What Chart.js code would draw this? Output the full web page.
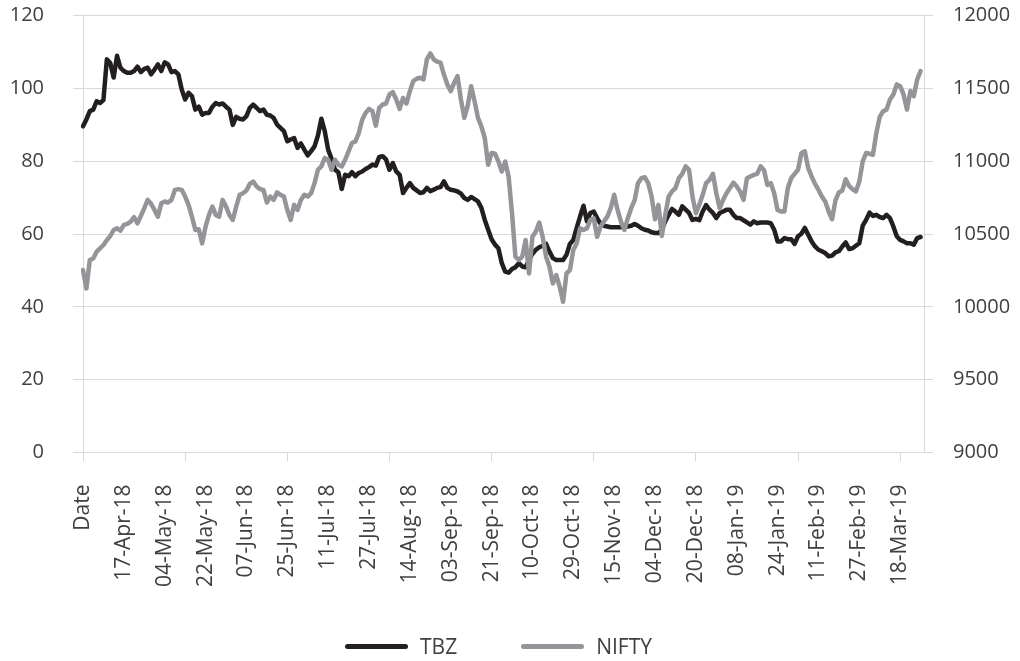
<!DOCTYPE html>
<html>
<head>
<meta charset="utf-8">
<script src="https://cdn.jsdelivr.net/npm/chart.js@4.4.1/dist/chart.umd.min.js"></script>
<style>
  html, body { margin: 0; padding: 0; background: #fff; }
  #wrap { position: relative; width: 1020px; height: 661px; }
  #legend {
    position: absolute; left: 345px; top: 632px; height: 28px;
    display: flex; align-items: center;
    font: 21px "Open Sans", sans-serif; color: #404040;
  }
  #legend .item { display: flex; align-items: center; margin-right: 64px; }
  #legend .item:last-child { margin-right: 0; }
  #legend .swatch { display: inline-block; width: 63px; height: 5px; border-radius: 3px; margin-right: 12px; }
</style>
</head>
<body>
<div id="wrap">
  <canvas id="chart" width="1020" height="661"></canvas>
  <div id="legend"></div>
</div>
<script>
"use strict";

// every 12th trading day gets a label; the first row of the sheet was the header "Date"
const tickLabels = [
  'Date', '17-Apr-18', '04-May-18', '22-May-18', '07-Jun-18', '25-Jun-18', '11-Jul-18',
  '27-Jul-18', '14-Aug-18', '03-Sep-18', '21-Sep-18', '10-Oct-18', '29-Oct-18', '15-Nov-18',
  '04-Dec-18', '20-Dec-18', '08-Jan-19', '24-Jan-19', '11-Feb-19', '27-Feb-19', '18-Mar-19'
];
const CATEGORY_COUNT = 248;
const LABEL_EVERY = 12;
const TICK_EVERY = 30;

const tbz = [
  89.6, 91.5, 93.8, 94.2, 96.5, 96, 96.8, 108, 107, 103,
  109, 105.7, 104.8, 104.3, 104.3, 104.8, 106, 104.5, 105.4, 105.7,
  103.9, 105.2, 106.6, 104.8, 107.2, 106.6, 104.5, 104.8, 103.9, 99.7,
  97, 98.8, 97.9, 94.2, 95, 92.8, 93.3, 93.3, 95, 96,
  95.6, 95.9, 95, 94.2, 90, 92.2, 91.7, 91.5, 92.4, 94.7,
  95.6, 94.7, 93.8, 94.2, 92.8, 92.6, 91.9, 90.1, 89.2, 88.3,
  85.5, 86, 86.4, 83.7, 84.9, 83.2, 81.6, 82.8, 84.1, 87.1,
  91.7, 88.3, 83.2, 80.7, 77.7, 77, 72.4, 76.3, 75.9, 77,
  75.9, 76.8, 77.2, 77.9, 78.4, 79.1, 78.8, 81.2, 81.4, 80.5,
  77.7, 79.5, 77.2, 76.3, 71.3, 72.7, 74, 72.7, 72, 71.3,
  71.5, 72.7, 71.8, 72.2, 72.7, 72.9, 74.5, 72.7, 72.2, 72,
  71.7, 71.1, 69.9, 69.4, 70.2, 69.6, 69, 67.2, 63.9, 61.2,
  58.6, 57.1, 56.1, 52, 49.7, 49.4, 50.4, 50.9, 52, 51.1,
  50.9, 52.9, 54.6, 55.7, 56.4, 56.8, 57.3, 55.2, 53.4, 52.9,
  52.9, 52.9, 54.3, 57.3, 58.4, 61.7, 64.9, 67.8, 63.5, 65.8,
  66.2, 64.4, 62.8, 62.3, 62.1, 61.9, 61.9, 61.9, 61.9, 62.1,
  62.1, 62.3, 62.8, 62.3, 61.6, 61.2, 61, 60.5, 60.3, 60.3,
  61.2, 63.5, 65.3, 66.9, 66.2, 65.3, 67.6, 66.7, 65.8, 63.9,
  64.2, 63.8, 66.2, 68, 66.7, 65.8, 64.4, 65.8, 66.2, 66.7,
  66.7, 65.3, 64.4, 64.4, 63.8, 63.2, 62.6, 63.5, 63, 63.2,
  63.2, 63.2, 63, 61.2, 58, 58, 58.9, 58.6, 58.6, 57.3,
  59.4, 60.1, 61.7, 59.8, 58, 56.6, 55.7, 55.3, 54.8, 53.9,
  54.1, 55, 55.3, 56.6, 57.7, 55.9, 56.1, 56.8, 57.5, 62.3,
  63.9, 65.9, 65, 65.3, 64.7, 64.4, 65.3, 64.4, 62.1, 59.4,
  58.4, 58, 57.5, 57.5, 57.1, 58.9, 59.2
];

const nifty = [
  10253, 10126, 10322, 10333, 10379, 10402, 10425, 10459, 10487, 10528,
  10540, 10524, 10563, 10570, 10586, 10616, 10574, 10625, 10678, 10735,
  10708, 10666, 10620, 10712, 10724, 10717, 10735, 10804, 10809, 10804,
  10758, 10701, 10620, 10528, 10533, 10436, 10551, 10632, 10689, 10632,
  10620, 10735, 10689, 10632, 10597, 10689, 10770, 10781, 10799, 10845,
  10861, 10827, 10809, 10804, 10717, 10758, 10735, 10786, 10770, 10758,
  10666, 10597, 10701, 10666, 10735, 10770, 10758, 10781, 10850, 10942,
  10965, 11022, 11011, 10942, 11011, 10976, 10965, 11011, 11068, 11126,
  11137, 11194, 11286, 11332, 11360, 11344, 11245, 11367, 11390, 11397,
  11459, 11475, 11424, 11360, 11436, 11397, 11482, 11551, 11567, 11574,
  11562, 11700, 11741, 11700, 11684, 11677, 11596, 11528, 11482, 11539,
  11585, 11424, 11298, 11383, 11516, 11413, 11298, 11240, 11160, 10976,
  11057, 11052, 10999, 10930, 10999, 10896, 10643, 10345, 10322, 10345,
  10459, 10230, 10482, 10517, 10579, 10482, 10345, 10276, 10161, 10218,
  10138, 10035, 10230, 10253, 10391, 10436, 10540, 10528, 10540, 10597,
  10609, 10482, 10551, 10586, 10620, 10678, 10770, 10666, 10586, 10528,
  10609, 10678, 10731, 10850, 10884, 10891, 10850, 10758, 10602, 10701,
  10487, 10632, 10758, 10793, 10816, 10884, 10914, 10965, 10942, 10758,
  10643, 10701, 10770, 10850, 10873, 10914, 10781, 10678, 10735, 10781,
  10816, 10854, 10827, 10793, 10735, 10884, 10896, 10907, 10914, 10965,
  10940, 10838, 10850, 10781, 10666, 10655, 10655, 10816, 10884, 10914,
  10942, 11057, 11068, 10953, 10896, 10845, 10804, 10758, 10724, 10655,
  10602, 10731, 10786, 10799, 10877, 10831, 10809, 10793, 10861, 10999,
  11057, 11052, 11045, 11194, 11305, 11344, 11355, 11424, 11459, 11528,
  11516, 11459, 11355, 11482, 11447, 11562, 11619
];

const categories = Array.from({length: CATEGORY_COUNT}, (_, i) =>
  i % LABEL_EVERY === 0 && tickLabels[i / LABEL_EVERY] ? tickLabels[i / LABEL_EVERY] : '');

const GRID = '#d9d9d9';

Chart.defaults.font.family = '"Open Sans", sans-serif';
Chart.defaults.font.size = 20;
Chart.defaults.color = '#404040';

// y axes: keep the label gap horizontal only, not on top of the chart area
const fixWidth = w => s => {
  s.width = w;
  s.paddingTop = 12;
  s.paddingBottom = 12;
};

const chart = new Chart(document.getElementById('chart'), {
  type: 'line',
  data: {
    labels: categories,
    datasets: [
      {
        label: 'TBZ',
        data: tbz,
        yAxisID: 'y',
        borderColor: '#231f20',
        backgroundColor: '#231f20',
        borderWidth: 4.5,
        pointRadius: 0,
        tension: 0,
        borderJoinStyle: 'round',
        borderCapStyle: 'round',
        order: 1
      },
      {
        label: 'NIFTY',
        data: nifty,
        yAxisID: 'y1',
        borderColor: '#939598',
        backgroundColor: '#939598',
        borderWidth: 4.5,
        pointRadius: 0,
        tension: 0,
        borderJoinStyle: 'round',
        borderCapStyle: 'round',
        order: 0
      }
    ]
  },
  options: {
    responsive: false,
    animation: false,
    layout: {padding: {top: 15.7, right: 0, bottom: 0, left: 0}},
    plugins: {
      tooltip: {enabled: false},
      legend: {display: false}
    },
    scales: {
      x: {
        border: {color: GRID},
        grid: {
          drawOnChartArea: false,
          tickLength: 9,
          color: ctx => ctx.index % TICK_EVERY === 0 ? GRID : 'rgba(0,0,0,0)'
        },
        ticks: {autoSkip: false, minRotation: 90, maxRotation: 90, padding: 23, font: {size: 21}},
        afterFit: s => { s.height = 208.5; }
      },
      y: {
        position: 'left',
        min: 0,
        max: 120,
        ticks: {stepSize: 20, padding: 29},
        grid: {color: GRID, tickLength: 10},
        border: {color: GRID},
        afterFit: fixWidth(83)
      },
      y1: {
        position: 'right',
        min: 9000,
        max: 12000,
        ticks: {stepSize: 500, padding: 20, callback: v => String(v)},
        grid: {drawOnChartArea: false, color: GRID, tickLength: 9},
        border: {color: GRID},
        afterFit: fixWidth(96)
      }
    }
  }
});

// legend below the plot, built from the datasets
const legend = document.getElementById('legend');
chart.data.datasets.forEach(ds => {
  const item = document.createElement('span');
  item.className = 'item';
  const swatch = document.createElement('span');
  swatch.className = 'swatch';
  swatch.style.background = ds.borderColor;
  item.appendChild(swatch);
  item.appendChild(document.createTextNode(ds.label));
  legend.appendChild(item);
});
</script>
</body>
</html>
